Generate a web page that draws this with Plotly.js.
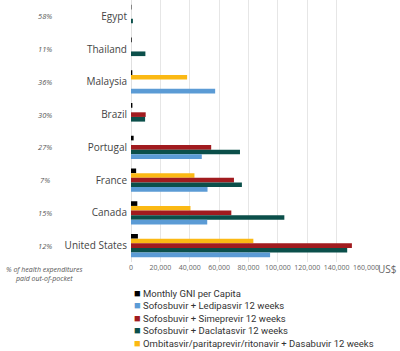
<!DOCTYPE html>
<html>
<head>
<meta charset="utf-8">
<script src="https://cdn.plot.ly/plotly-3.0.1.min.js"></script>
<style>html,body{margin:0;padding:0;background:#fff;}#chart{width:400px;height:351px;}</style>
</head>
<body>
<div id="chart"></div>
<script>
var countries = ["Egypt","Thailand","Malaysia","Brazil","Portugal","France","Canada","United States"];
var outOfPocket = ["58%","11%","36%","30%","27%","7%","15%","12%"];
var gniMonthly = [270, 480, 900, 950, 1800, 3500, 4300, 4700];
var ledipasvir = [null, null, 57300, null, 48200, 52100, 51900, 94700];
var simeprevir = [null, null, null, 10000, 54600, 70100, 68300, 150400];
var daclatasvir = [1300, 9800, null, 9600, 74200, 75500, 104400, 147200];
var ombitasvir = [null, null, 38200, null, null, 43200, 40500, 83300];
var xTicks = [0,20000,40000,60000,80000,100000,120000,140000,160000];
var xTickText = ["0","20,000","40,000","60,000","80,000","100,000","120,000","140,000","160,000"];
var seriesNames = ["Monthly GNI per Capita","Sofosbuvir + Ledipasvir 12 weeks","Sofosbuvir + Simeprevir 12 weeks","Sofosbuvir + Daclatasvir 12 weeks","Ombitasvir/paritaprevir/ritonavir + Dasabuvir 12 weeks"];
var seriesColors = ["#000000","#5b9bd5","#a11b1f","#0b4f4a","#fbb914"];

var font = "'Open Sans', 'Noto Sans', sans-serif";
var narrow = "'Liberation Sans Narrow', Roboto, 'Open Sans', sans-serif";
function tr(i, vals){
  return {type:'bar', orientation:'h', name:seriesNames[i], y:countries, x:vals,
    marker:{color:seriesColors[i]}, showlegend:false, hoverinfo:'x+name'};
}
// top-to-bottom order within each group
var data = [
  tr(0, gniMonthly),
  tr(4, ombitasvir),
  tr(2, simeprevir),
  tr(3, daclatasvir),
  tr(1, ledipasvir)
];

var annotations = countries.map(function(c,i){
  return {xref:'paper', yref:'y', x:-0.366, y:c, text:'<i>'+outOfPocket[i]+'</i>', showarrow:false,
    xanchor:'center', font:{family:font, size:7.5, color:'#555'}};
});
annotations.push({xref:'paper', yref:'paper', x:-0.366, y:-0.003, yanchor:'top', xanchor:'center',
  text:'<i>% of health expenditures<br>paid out-of-pocket</i>', showarrow:false,
  font:{family:font, size:7, color:'#555'}});
annotations.push({xref:'paper', yref:'paper', x:1.14, y:-0.027, yanchor:'middle', xanchor:'right',
  text:'US$', showarrow:false, font:{family:font, size:10, color:'#666'}});
// legend rows
seriesNames.forEach(function(n,i){
  annotations.push({xref:'paper', yref:'paper', x:0.006, y:-0.119 - i*0.0477, xanchor:'left', yanchor:'middle',
    showarrow:false, align:'left',
    text:'<span style="color:'+seriesColors[i]+';font-size:11px">■</span> '+n,
    font:{family:narrow, size:9.5, color:'#333'}});
});

var layout = {
  width:400, height:351,
  margin:{l:131, r:34, t:0, b:89, pad:0},
  paper_bgcolor:'#fff', plot_bgcolor:'#fff',
  barmode:'group', bargap:0.29, bargroupgap:0,
  showlegend:false,
  xaxis:{range:[0,160000], tickvals:xTicks, ticktext:xTickText, tickangle:0, showgrid:true,
    gridcolor:'#e6e6e6', gridwidth:1, zeroline:true, zerolinecolor:'#e0e0e0', automargin:false,
    showline:false, tickfont:{family:font, size:7, color:'#666'}, fixedrange:true},
  yaxis:{type:'category', range:[7.5,-0.5], showgrid:false, zeroline:false, showline:false, automargin:false,
    ticks:'', ticklabelstandoff:3, tickfont:{family:font, size:10, color:'#444'}},
  annotations:annotations,
  font:{family:font}
};
Plotly.newPlot('chart', data, layout, {displayModeBar:false, staticPlot:true});
</script>
</body>
</html>
